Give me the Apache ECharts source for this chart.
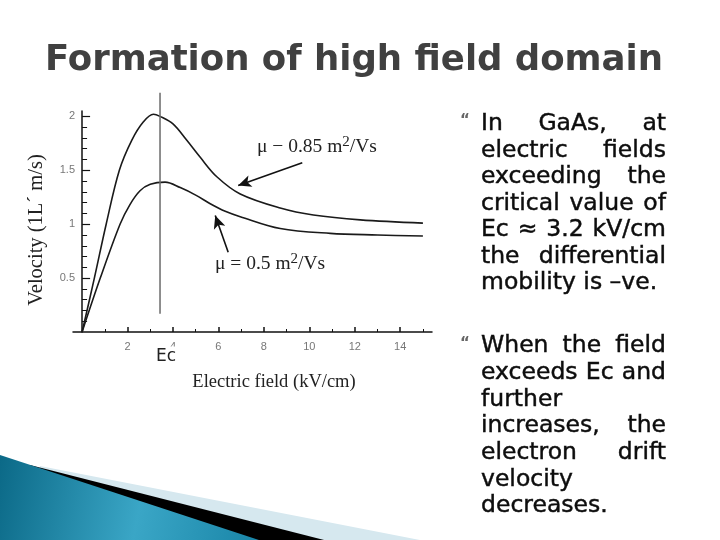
<!DOCTYPE html>
<html>
<head>
<meta charset="utf-8">
<script src="https://cdn.jsdelivr.net/npm/echarts@6/dist/echarts.min.js"></script>
<style>
  html, body { margin: 0; background: #fff; }
  #chart { width: 720px; height: 540px; }
</style>
</head>
<body>
<div id="chart"></div>
<script>
// drift velocity (10^5 m/s) vs electric field (kV/cm)
const fieldHigh = [0, 0.54, 1.06, 1.64, 2.19, 2.7, 3.14, 3.43, 4.0, 4.6, 5.2, 5.93, 6.96, 8.72, 10.18, 12.24, 15.0];
const velHigh   = [0, 0.5, 1.0, 1.5, 1.78, 1.95, 2.02, 2.0, 1.93, 1.78, 1.62, 1.44, 1.28, 1.15, 1.085, 1.04, 1.01];
const fieldLow  = [0, 0.8, 1.67, 2.1, 2.55, 3.0, 3.65, 4.32, 5.0, 5.64, 6.3, 6.96, 8.72, 10.92, 13.0, 15.0];
const velLow    = [0, 0.5, 1.0, 1.18, 1.31, 1.37, 1.39, 1.34, 1.27, 1.19, 1.12, 1.07, 0.96, 0.915, 0.90, 0.89];

const ecField = 3.43;            // critical field marker
const ecSpan = [0.17, 2.22];     // vertical extent of the marker line

// annotation arrows: [from, to] in data units
const arrowHigh = [[9.69, 1.57], [6.87, 1.36]];
const arrowLow  = [[6.43, 0.74], [5.86, 1.08]];

const xTicks = [2, 4, 6, 8, 10, 12, 14];
const xMinor = [1, 3, 5, 7, 9, 11, 13, 15];
const yTicks = [0.5, 1, 1.5, 2];
const yMinor = [0.1, 0.2, 0.3, 0.4, 0.6, 0.7, 0.8, 0.9, 1.1, 1.2, 1.3, 1.4, 1.6, 1.7, 1.8, 1.9];

const bullet1 = ['In GaAs, at', 'electric fields', 'exceeding the', 'critical value of',
  'Ec \u2248 3.2 kV/cm', 'the differential', 'mobility is \u2013ve.'];
const bullet2 = ['When the field', 'exceeds Ec and', 'further', 'increases, the',
  'electron drift', 'velocity', 'decreases.'];

const zip = (a, b) => a.map((v, i) => [v, b[i]]);

// justified slide text, one element per word
const bodyFont = '23.5px "DejaVu Sans"';
const colLeft = 481, colRight = 666;
const ctx = document.createElement('canvas').getContext('2d');
ctx.font = bodyFont;
function textBlock(lines, y0, step) {
  const out = [];
  lines.forEach((line, li) => {
    const words = line.split(' ');
    const widths = words.map(w => ctx.measureText(w).width);
    const total = widths.reduce((a, b) => a + b, 0);
    let gap = ctx.measureText(' ').width;
    const last = li === lines.length - 1;
    if (!last && words.length > 1) gap = (colRight - colLeft - total) / (words.length - 1);
    let x = colLeft;
    words.forEach((w, i) => {
      out.push({
        type: 'text', x: x, y: y0 + li * step, z: 100,
        style: {
          text: w, font: bodyFont, fill: '#0d0d0d', textVerticalAlign: 'middle',
          stroke: '#0d0d0d', lineWidth: 0.45
        }
      });
      x += widths[i] + gap;
    });
  });
  return out;
}

const axisColor = '#111';
const chart = echarts.init(document.getElementById('chart'));

const option = {
  backgroundColor: '#fff',
  animation: false,
  grid: { left: 73, top: 111, width: 359, height: 221, containLabel: false },
  xAxis: [
    {
      type: 'value', min: -0.4, max: 15.4,
      axisLine: { onZero: true, lineStyle: { color: axisColor, width: 1.5 } },
      axisTick: { inside: true, length: 5, customValues: xTicks, lineStyle: { color: axisColor, width: 1.5 } },
      axisLabel: { customValues: xTicks, margin: 9, color: '#777', fontSize: 11, fontFamily: 'Liberation Sans' },
      splitLine: { show: false }
    },
    {
      type: 'value', min: -0.4, max: 15.4, position: 'bottom',
      axisLine: { show: false, onZero: true },
      axisTick: { inside: true, length: 3, customValues: xMinor, lineStyle: { color: axisColor } },
      axisLabel: { show: false },
      splitLine: { show: false }
    }
  ],
  yAxis: [
    {
      type: 'value', min: 0, max: 2.05,
      axisLine: { onZero: true, lineStyle: { color: axisColor, width: 1.5 } },
      axisTick: { inside: true, length: 8, customValues: yTicks, lineStyle: { color: axisColor, width: 1.2 } },
      axisLabel: { customValues: yTicks, margin: -2, color: '#777', fontSize: 11, fontFamily: 'Liberation Sans' },
      splitLine: { show: false }
    },
    {
      type: 'value', min: 0, max: 2.05, position: 'left',
      axisLine: { show: false, onZero: true },
      axisTick: { inside: true, length: 5, customValues: yMinor, lineStyle: { color: axisColor } },
      axisLabel: { show: false },
      splitLine: { show: false }
    }
  ],
  series: [
    {
      name: 'mu085', type: 'line', data: zip(fieldHigh, velHigh),
      smooth: 0.35, symbol: 'none',
      lineStyle: { color: '#1a1a1a', width: 1.6 }
    },
    {
      name: 'mu05', type: 'line', data: zip(fieldLow, velLow),
      smooth: 0.35, symbol: 'none',
      lineStyle: { color: '#1a1a1a', width: 1.6 }
    },
    {
      name: 'Ec', type: 'line', data: [[ecField, ecSpan[0]], [ecField, ecSpan[1]]],
      symbol: 'none', clip: false,
      lineStyle: { color: '#6a6a6a', width: 1.5 }
    },
    {
      name: 'arrows', type: 'line', data: [],
      markLine: {
        silent: true, animation: false,
        symbol: ['none', 'arrow'], symbolSize: [9, 13],
        label: { show: false },
        lineStyle: { color: '#111', width: 1.6, type: 'solid' },
        data: [
          [{ coord: arrowHigh[0] }, { coord: arrowHigh[1] }],
          [{ coord: arrowLow[0] }, { coord: arrowLow[1] }]
        ]
      }
    }
  ],
  graphic: [
    // bottom-left swoosh
    {
      type: 'polygon', z: 1,
      shape: { points: [[40, 466], [425, 541], [40, 541]] },
      style: { fill: '#d6e8ef' }
    },
    {
      type: 'polygon', z: 2,
      shape: { points: [[30, 465], [328, 541], [30, 541]] },
      style: { fill: '#000' }
    },
    {
      type: 'polygon', z: 3,
      shape: { points: [[0, 455], [262, 541], [0, 541]] },
      style: {
        fill: new echarts.graphic.LinearGradient(0, 0, 1, 0.6, [
          { offset: 0, color: '#0b6987' },
          { offset: 0.55, color: '#3aa6c6' },
          { offset: 1, color: '#1a86a8' }
        ])
      }
    },
    // title
    {
      type: 'text', x: 45, y: 61, z: 100,
      style: {
        text: 'Formation of high field domain',
        font: 'bold 35.5px "DejaVu Sans"', fill: '#404040', textVerticalAlign: 'middle',
        shadowColor: 'rgba(0,0,0,0.25)', shadowOffsetX: 2, shadowOffsetY: 2, shadowBlur: 2
      }
    },
    // axis names
    {
      type: 'text', x: 37, y: 230, rotation: Math.PI / 2, z: 100,
      style: {
        text: 'Velocity (1L\u00b4 m/s)', font: '20.5px "Liberation Serif"', fill: '#222',
        textAlign: 'center', textVerticalAlign: 'middle'
      }
    },
    {
      type: 'text', x: 274, y: 382, z: 100,
      style: {
        text: 'Electric field (kV/cm)', font: '18.5px "Liberation Serif"', fill: '#222',
        textAlign: 'center', textVerticalAlign: 'middle'
      }
    },
    {
      type: 'text', x: 166, y: 357, z: 100,
      style: {
        text: 'Ec', font: '17px "DejaVu Sans"', fill: '#222',
        textAlign: 'center', textVerticalAlign: 'middle',
        backgroundColor: '#fff', padding: [2, 3]
      }
    },
    // curve annotations
    {
      type: 'text', x: 257, y: 147, z: 100,
      style: {
        text: '{a|\u03bc \u2212 0.85 m}{s|2}{a|/Vs}',
        rich: {
          a: { font: '19.5px "Liberation Serif"', fill: '#222', lineHeight: 24 },
          s: { font: '15px "Liberation Serif"', fill: '#222', lineHeight: 24, verticalAlign: 'top' }
        },
        textVerticalAlign: 'middle'
      }
    },
    {
      type: 'text', x: 215, y: 264, z: 100,
      style: {
        text: '{a|\u03bc = 0.5 m}{s|2}{a|/Vs}',
        rich: {
          a: { font: '19.5px "Liberation Serif"', fill: '#222', lineHeight: 24 },
          s: { font: '15px "Liberation Serif"', fill: '#222', lineHeight: 24, verticalAlign: 'top' }
        },
        textVerticalAlign: 'middle'
      }
    },
    // bullets
    {
      type: 'text', x: 465, y: 121, z: 100,
      style: { text: '\u201c', font: 'bold 15px "DejaVu Sans"', fill: '#666', textAlign: 'center', textVerticalAlign: 'middle' }
    },
    {
      type: 'text', x: 465, y: 344, z: 100,
      style: { text: '\u201c', font: 'bold 15px "DejaVu Sans"', fill: '#666', textAlign: 'center', textVerticalAlign: 'middle' }
    }
  ].concat(textBlock(bullet1, 124, 26.5), textBlock(bullet2, 346, 26.7))
};

chart.setOption(option);
</script>
</body>
</html>
